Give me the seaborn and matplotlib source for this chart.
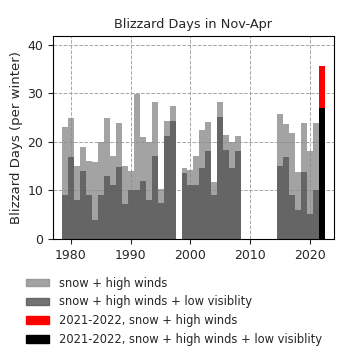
import matplotlib
matplotlib.use("Agg")
import matplotlib.pyplot as plt
import seaborn as sns
import pandas as pd
from matplotlib.patches import Patch

# ---- data ----
years = [1979, 1980, 1981, 1982, 1983, 1984, 1985, 1986, 1987, 1988,
         1989, 1990, 1991, 1992, 1993, 1994, 1995, 1996, 1997,
         1999, 2000, 2001, 2002, 2003, 2004, 2005, 2006, 2007, 2008,
         2015, 2016, 2017, 2018, 2019, 2020, 2021]
snow_wind = [23.0, 24.8, 15.0, 19.0, 16.0, 15.8, 20.0, 24.8, 17.0, 23.8,
             15.0, 14.0, 29.8, 20.9, 20.0, 28.2, 10.3, 24.3, 27.4,
             14.5, 14.2, 17.0, 22.4, 24.1, 11.8, 28.1, 21.5, 20.0, 21.1,
             25.8, 23.7, 21.8, 13.8, 23.8, 18.1, 23.8]
snow_wind_lowvis = [9.0, 16.9, 8.0, 13.9, 9.0, 3.9, 9.0, 13.0, 11.1, 14.9,
                    7.1, 10.0, 10.0, 11.9, 8.0, 17.0, 7.3, 21.1, 24.3,
                    13.5, 11.1, 11.1, 14.5, 18.2, 9.0, 25.1, 18.3, 14.6, 18.1,
                    15.0, 16.9, 9.0, 6.0, 13.8, 5.1, 10.0]
recent_year = [2022]
recent_snow_wind = [35.6]
recent_snow_wind_lowvis = [27.0]

x_ticks = [1980, 1990, 2000, 2010, 2020]
y_ticks = [0, 10, 20, 30, 40]
legend_labels = ["snow + high winds",
                 "snow + high winds + low visiblity",
                 "2021-2022, snow + high winds",
                 "2021-2022, snow + high winds + low visiblity"]
title = "Blizzard Days in Nov-Apr"
ylabel = "Blizzard Days (per winter)"

# ---- style ----
sns.set_style("ticks")
plt.rcParams['font.family'] = ['DejaVu Sans']

light_c, light_a = '#8c8c8c', 0.8
dark_c, dark_a = '#5a5a5a', 0.85

df = pd.DataFrame({'year': years, 'sw': snow_wind, 'swl': snow_wind_lowvis})
df_recent = pd.DataFrame({'year': recent_year, 'sw': recent_snow_wind,
                          'swl': recent_snow_wind_lowvis})

fig = plt.figure(figsize=(3.55, 3.56), dpi=100)
ax = fig.add_axes([0.149, 0.329, 0.792, 0.570])

sns.histplot(data=df, x='year', weights='sw', discrete=True, shrink=1,
             color=light_c, alpha=light_a, linewidth=0, ax=ax)
sns.histplot(data=df, x='year', weights='swl', discrete=True, shrink=1,
             color=dark_c, alpha=dark_a, linewidth=0, ax=ax)
sns.histplot(data=df_recent, x='year', weights='sw', discrete=True, shrink=1,
             color='red', alpha=1, linewidth=0, ax=ax)
sns.histplot(data=df_recent, x='year', weights='swl', discrete=True, shrink=1,
             color='black', alpha=1, linewidth=0, ax=ax)

ax.set_xlim(1977, 2024)
ax.set_ylim(0, 41.8)
ax.set_xticks(x_ticks)
ax.set_yticks(y_ticks)
ax.tick_params(labelsize=9)
ax.grid(True, ls='--', color='0.65', lw=0.7)
ax.set_axisbelow(True)
ax.set_xlabel("")
ax.set_ylabel(ylabel, fontsize=9.5, labelpad=3)
ax.set_title(title, fontsize=9.3)
for s in ax.spines.values():
    s.set_color('black')
    s.set_linewidth(0.8)

handles = [Patch(facecolor=light_c, edgecolor=light_c, alpha=light_a, lw=1),
           Patch(facecolor=dark_c, edgecolor=dark_c, alpha=dark_a, lw=1),
           Patch(facecolor='red', edgecolor='red'),
           Patch(facecolor='black', edgecolor='black')]
fig.legend(handles, legend_labels, loc='upper left',
           bbox_to_anchor=(0.045, 0.252), frameon=False, fontsize=8.3,
           handlelength=2.0, handleheight=0.6, labelspacing=0.5,
           handletextpad=0.8)

fig.savefig("out.png", dpi=100)
